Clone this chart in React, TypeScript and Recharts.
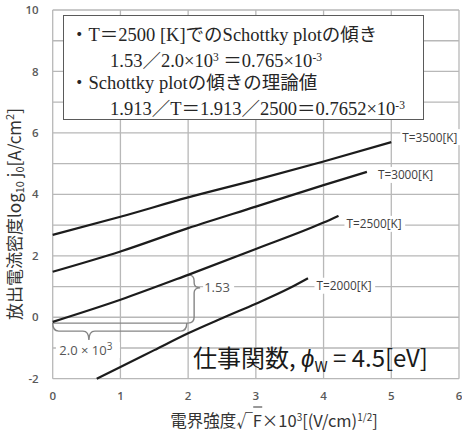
import React from 'react';
import { LineChart, Line, XAxis, YAxis, ReferenceLine } from 'recharts';

// axis ticks
const xTicks = [0, 1, 2, 3, 4, 5, 6];
const yTicks = [-2, -1, 0, 1, 2, 3, 4, 5, 6, 7, 8, 9, 10];

// Schottky plot, one curve per temperature (x = sqrt(F) x 1e-3, y = log10 j0)
const seriesNames = ['T=3500[K]', 'T=3000[K]', 'T=2500[K]', 'T=2000[K]'];
const field3500 = [0, 1, 2, 3, 4, 5];
const log3500 = [2.68, 3.27, 3.9, 4.47, 5.07, 5.7];
const field3000 = [0, 1, 2, 3, 4, 4.64];
const log3000 = [1.48, 2.14, 2.9, 3.6, 4.3, 4.73];
const field2500 = [0, 1, 2, 3, 4, 4.22];
const log2500 = [-0.15, 0.57, 1.38, 2.22, 3.08, 3.3];
const field2000 = [0.65, 1, 1.5, 2, 2.5, 3, 3.5, 3.77];
const log2000 = [-2, -1.62, -1.07, -0.52, -0.03, 0.44, 0.95, 1.27];

// slope annotation on the 2500 K curve
const runFrom = 0;
const runTo = 2;
const riseBottom = -0.19;
const riseTop = 1.38;

const toPoints = (xs: number[], ys: number[]) => xs.map((x, i) => ({ x, y: ys[i] }));

const series = [
  { name: seriesNames[0], data: toPoints(field3500, log3500), dx: 11, dy: -5 },
  { name: seriesNames[1], data: toPoints(field3000, log3000), dx: 11, dy: 3 },
  { name: seriesNames[2], data: toPoints(field2500, log2500), dx: 8, dy: 8 },
  { name: seriesNames[3], data: toPoints(field2000, log2000), dx: 8.5, dy: 7.5 },
];

const xMin = xTicks[0];
const xMax = xTicks[xTicks.length - 1];
const yMin = yTicks[0];
const yMax = yTicks[yTicks.length - 1];

// two interior points; the grid is laid out from where the axes put them
const gridAnchor = [{ x: 1, y: 0 }, { x: 5, y: 8 }];

const gridColor = '#b8b8b8';
const braceColor = '#858585';
const labelFont = '"Open Sans", "Liberation Sans", sans-serif';

// grid drawn as one path (paths render here, plain <line> elements did not show)
const GridShape = (p: any) => {
  const a = gridAnchor[0];
  const b = gridAnchor[1];
  const px = (v: number) => p.x1 + ((v - a.x) * (p.x2 - p.x1)) / (b.x - a.x);
  const py = (v: number) => p.y1 + ((v - a.y) * (p.y2 - p.y1)) / (b.y - a.y);
  const h = yTicks.map((v) => `M${px(xMin)},${py(v)} L${px(xMax)},${py(v)}`).join(' ');
  const vv = xTicks.map((v) => `M${px(v)},${py(yMin)} L${px(v)},${py(yMax)}`).join(' ');
  return <path d={`${h} ${vv}`} fill="none" stroke={gridColor} strokeWidth={1.3} />;
};

const BarLine = (p: any) => (
  <path d={`M${p.x1},${p.y1} L${p.x2},${p.y2}`} fill="none" stroke={braceColor} strokeWidth={1.4} />
);

const endLabel = (name: string, last: number, dx: number, dy: number) => (p: any) => {
  if (p.index !== last) return null;
  const w = name.length * 6.3;
  return (
    <g>
      <rect x={p.x + dx - 2} y={p.y + dy - 8} width={w + 4} height={16} fill="#fff" />
      <text x={p.x + dx} y={p.y + dy + 4.5} fontSize={11.8} fontFamily={labelFont} fill="#404040">
        {name}
      </text>
    </g>
  );
};

// curly brace under the run
const RunBrace = (p: any) => {
  const { x1, y1, x2 } = p;
  const d = 8;
  const t = 17;
  const tipX = x1 + (x2 - x1) * 0.27;
  const path = `M${x1},${y1} Q${x1},${y1 + d} ${x1 + 6},${y1 + d} L${tipX - 6},${y1 + d} Q${tipX},${y1 + d} ${tipX},${y1 + t} Q${tipX},${y1 + d} ${tipX + 6},${y1 + d} L${x2 - 6},${y1 + d} Q${x2},${y1 + d} ${x2},${y1}`;
  return (
    <g>
      <path d={path} fill="none" stroke={braceColor} strokeWidth={1.4} />
      <rect x={tipX - 33} y={y1 + t + 2} width={64} height={16} fill="#fff" />
      <text x={tipX - 3} y={y1 + t + 15} textAnchor="middle" fontSize={13} fontFamily={labelFont} fill="#555">
        2.0 × 10<tspan dy={-5} fontSize={10}>3</tspan>
      </text>
    </g>
  );
};

// curly brace beside the rise
const RiseBrace = (p: any) => {
  const { x1, y1, y2 } = p;
  const w = 6;
  const t = 12;
  const tipY = y1 + (y2 - y1) * 0.27;
  const path = `M${x1},${y1} Q${x1 + w},${y1} ${x1 + w},${y1 + 6} L${x1 + w},${tipY - 5} Q${x1 + w},${tipY} ${x1 + t},${tipY} Q${x1 + w},${tipY} ${x1 + w},${tipY + 5} L${x1 + w},${y2 - 6} Q${x1 + w},${y2} ${x1},${y2}`;
  return (
    <g>
      <path d={path} fill="none" stroke={braceColor} strokeWidth={1.4} />
      <rect x={x1 + t + 3} y={tipY - 8} width={31} height={16} fill="#fff" />
      <text x={x1 + t + 4} y={tipY + 4.5} fontSize={13} fontFamily={labelFont} fill="#555">
        1.53
      </text>
    </g>
  );
};

export default function App() {
  return (
    <div style={{ position: 'relative', width: 462, height: 435, background: '#fff' }}>
      <style>{'body { margin: 0; }'}</style>
      <LineChart width={462} height={435} margin={{ top: 10, right: 3, left: 12.7, bottom: 26.3 }}>
        <XAxis
          type="number"
          dataKey="x"
          domain={[xMin, xMax]}
          ticks={xTicks}
          interval={0}
          height={30}
          axisLine={false}
          tickLine={false}
          tickSize={0}
          tickMargin={13}
          tick={{ fontSize: 11.5, fill: '#595959', fontFamily: labelFont, fontWeight: 600 }}
        />
        <YAxis
          type="number"
          dataKey="y"
          domain={[yMin, yMax]}
          ticks={yTicks}
          interval={0}
          width={40}
          axisLine={false}
          tickLine={false}
          tickSize={0}
          tickMargin={14}
          tickFormatter={(v: number) => (v % 2 === 0 ? String(v) : '')}
          tick={{ fontSize: 11.5, fill: '#595959', fontFamily: labelFont, fontWeight: 600 }}
        />
        <ReferenceLine segment={gridAnchor} shape={GridShape} />
        <ReferenceLine
          segment={[{ x: runFrom, y: riseBottom }, { x: runTo, y: riseBottom }]}
          shape={BarLine}
        />
        <ReferenceLine
          segment={[{ x: runFrom, y: riseBottom }, { x: runTo - 0.02, y: riseBottom }]}
          shape={RunBrace}
        />
        <ReferenceLine
          segment={[{ x: runTo, y: riseTop }, { x: runTo, y: riseBottom }]}
          shape={RiseBrace}
        />
        {series.map((s) => (
          <Line
            key={s.name}
            data={s.data}
            dataKey="y"
            type="monotone"
            stroke="#1c1c1c"
            strokeWidth={2.2}
            dot={false}
            isAnimationActive={false}
            label={endLabel(s.name, s.data.length - 1, s.dx, s.dy)}
          />
        ))}
      </LineChart>

      {/* note box */}
      <div
        style={{
          position: 'absolute',
          left: 63,
          top: 15,
          width: 361,
          height: 105,
          boxSizing: 'border-box',
          border: '1.6px solid #5a5a5a',
          background: '#fff',
          fontFamily: '"Liberation Serif", "Noto Sans CJK JP", serif',
          fontSize: 18.5,
          lineHeight: '22px',
          color: '#262626',
          padding: '8px 0 0 6px',
          whiteSpace: 'nowrap',
        }}
      >
        <div>・T＝2500 [K]でのSchottky plotの傾き</div>
        <div style={{ paddingLeft: 40 }}>
          1.53／2.0×10<sup style={{ fontSize: 11.5, verticalAlign: 6 }}>3</sup> ＝0.765×10
          <sup style={{ fontSize: 11.5, verticalAlign: 6 }}>-3</sup>
        </div>
        <div>・Schottky plotの傾きの理論値</div>
        <div style={{ paddingLeft: 40 }}>
          1.913／T＝1.913／2500＝0.7652×10<sup style={{ fontSize: 11.5, verticalAlign: 6 }}>-3</sup>
        </div>
      </div>

      {/* work function note */}
      <div
        style={{
          position: 'absolute',
          left: 193,
          top: 344,
          fontFamily: '"Noto Sans CJK JP", sans-serif',
          fontSize: 24,
          lineHeight: '26px',
          color: '#1a1a1a',
          whiteSpace: 'nowrap',
        }}
      >
        仕事関数, <i>ϕ</i>
        <sub style={{ fontSize: 15, verticalAlign: -5 }}>W</sub> = 4.5[eV]
      </div>

      {/* y axis title */}
      <div
        style={{
          position: 'absolute',
          left: 14,
          top: 214,
          transform: 'translate(-50%, -50%) rotate(-90deg)',
          fontFamily: '"Noto Sans CJK JP", sans-serif',
          fontSize: 17,
          lineHeight: '20px',
          color: '#333',
          whiteSpace: 'nowrap',
        }}
      >
        放出電流密度log<sub style={{ fontSize: 11, verticalAlign: -3 }}>10</sub> j
        <sub style={{ fontSize: 11, verticalAlign: -3 }}>0</sub>[A/cm
        <sup style={{ fontSize: 11, verticalAlign: 7 }}>2</sup>]
      </div>

      {/* x axis title */}
      <div
        style={{
          position: 'absolute',
          left: 274,
          top: 418,
          transform: 'translate(-50%, -50%)',
          fontFamily: '"Noto Sans CJK JP", sans-serif',
          fontSize: 16.5,
          lineHeight: '20px',
          color: '#333',
          whiteSpace: 'nowrap',
        }}
      >
        電界強度√<span style={{ borderTop: '1.3px solid #333' }}>F</span>×10
        <sup style={{ fontSize: 10, verticalAlign: 6 }}>3</sup>[(V/cm)
        <sup style={{ fontSize: 10, verticalAlign: 6 }}>1/2</sup>]
      </div>
    </div>
  );
}
